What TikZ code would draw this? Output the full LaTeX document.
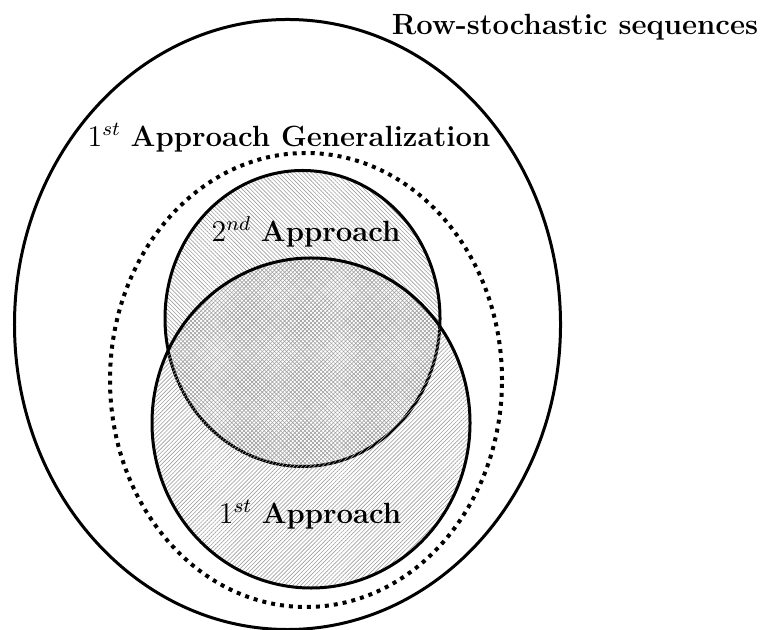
\documentclass[tikz,border=0pt]{standalone}
\usetikzlibrary{shapes.geometric,patterns.meta}

\begin{document}
\begin{tikzpicture}[
  x=0.4pt, y=-0.4pt,
  region/.style={ellipse, draw, line width=1.2pt, inner sep=0pt},
  bound/.style={ellipse, draw, dotted, line width=1.6pt, inner sep=0pt},
  hatchne/.style={pattern={Lines[angle=45, distance=1.15pt, line width=0.25pt]}, pattern color=gray!75},
  hatchnw/.style={pattern={Lines[angle=-45, distance=1.15pt, line width=0.25pt]}, pattern color=gray!75},
  label/.style={font=\fontsize{11.7}{14}\selectfont, inner sep=1pt}
]
\useasboundingbox (0,0) rectangle (770,630);

% Row-stochastic sequences
\node[region, minimum width=218.4pt, minimum height=244pt] (outer) at (287.5,324.5) {};
\node[label] (outertext) at (575,27) {\textbf{Row-stochastic sequences}};

% Generalization of the first approach
\node[bound, minimum width=156.8pt, minimum height=181.6pt] (general) at (306,380) {};
\node[label] (generaltext) at (289,138) {$1^{st}$ \textbf{Approach Generalization}};

% Second approach
\node[region, hatchnw, minimum width=110pt, minimum height=118.4pt] (second) at (302.5,318.5) {};

% First approach
\node[region, hatchne, minimum width=127.2pt, minimum height=132pt] (first) at (311,423) {};

\node[label] (secondtext) at (306,232) {$2^{nd}$ \textbf{Approach}};
\node[label] (firsttext) at (310,515) {$1^{st}$ \textbf{Approach}};

\end{tikzpicture}
\end{document}
